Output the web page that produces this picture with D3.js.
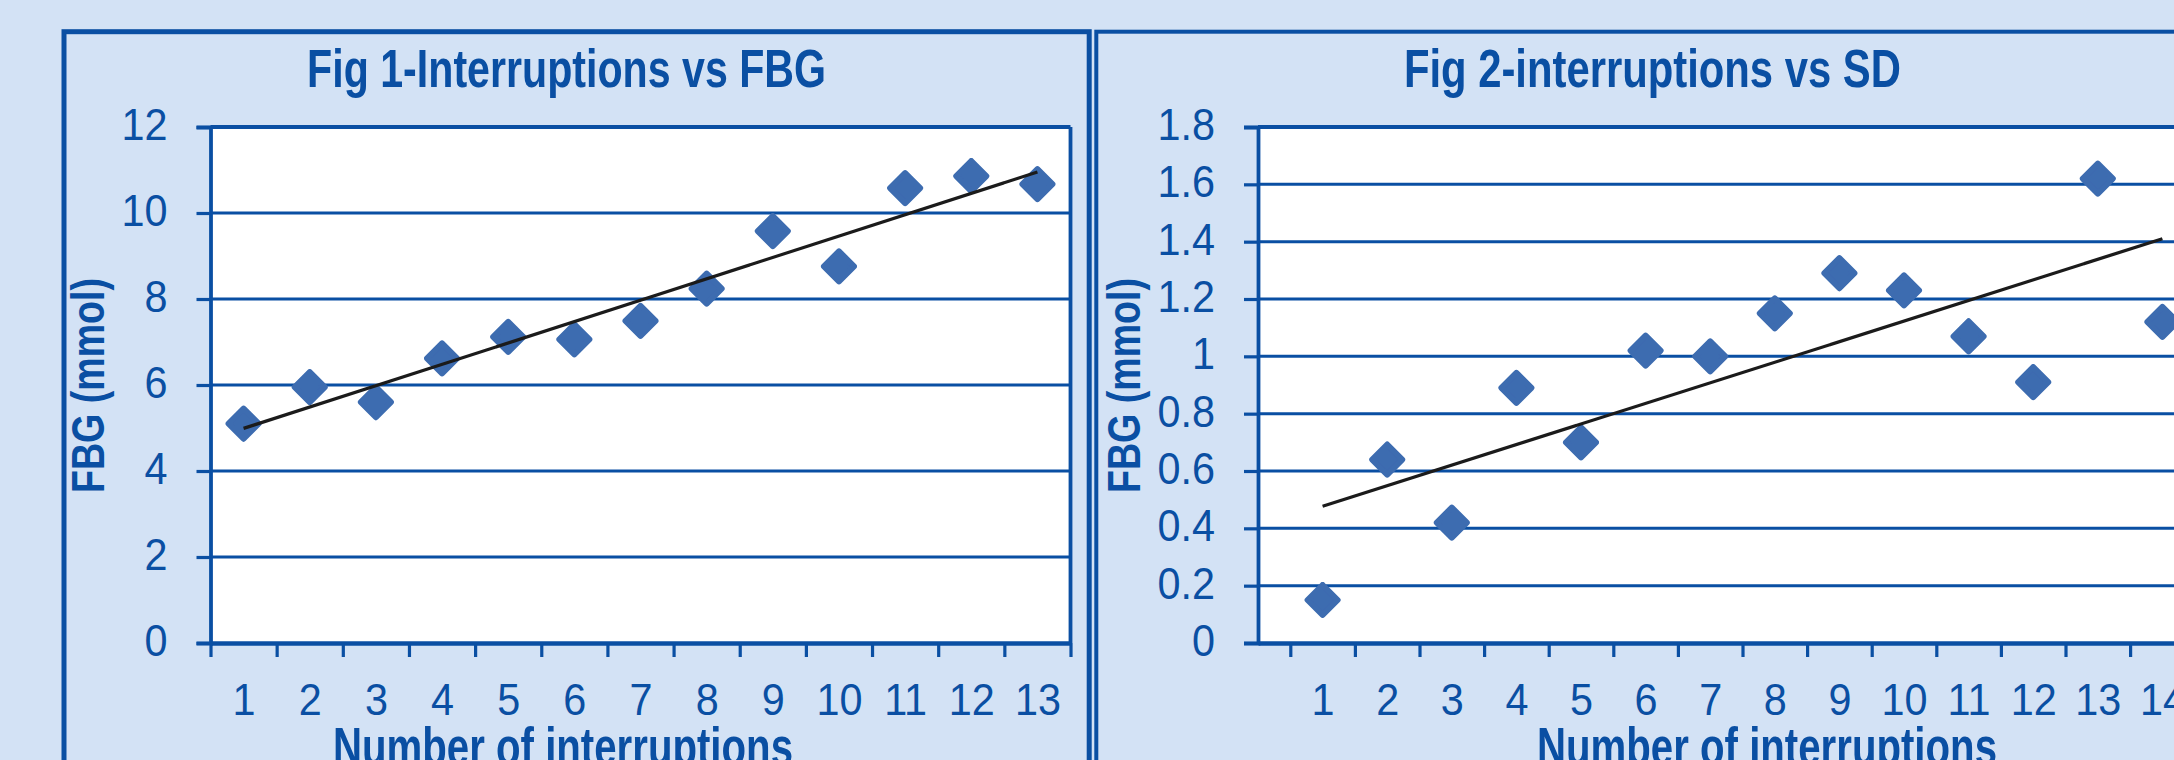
<!DOCTYPE html>
<html>
<head>
<meta charset="utf-8">
<script src="https://cdn.jsdelivr.net/npm/d3@7"></script>
<style>
  html, body { margin: 0; padding: 0; background: #D3E2F5; }
  svg { display: block; }
  text { font-family: "Liberation Sans", Arial, sans-serif; fill: #0A4FA3; }
</style>
</head>
<body>
<svg id="chart" width="2174" height="760"></svg>
<script>
// ---- data -------------------------------------------------------------
// Fig 1: fasting blood glucose (mmol) by number of interruptions
const fig1Categories = [1, 2, 3, 4, 5, 6, 7, 8, 9, 10, 11, 12, 13];
const fig1Values = [5.1, 5.95, 5.6, 6.62, 7.12, 7.06, 7.49, 8.24, 9.58, 8.76, 10.58, 10.86, 10.67];
const fig1YTicks = [0, 2, 4, 6, 8, 10, 12];

// Fig 2: standard deviation by number of interruptions
const fig2Categories = [1, 2, 3, 4, 5, 6, 7, 8, 9, 10, 11, 12, 13, 14];
const fig2Values = [0.15, 0.64, 0.42, 0.89, 0.70, 1.02, 1.00, 1.15, 1.29, 1.23, 1.07, 0.91, 1.62, 1.12];
const fig2YTicks = [0, 0.2, 0.4, 0.6, 0.8, 1, 1.2, 1.4, 1.6, 1.8];
const fig2YLabels = ["0", "0.2", "0.4", "0.6", "0.8", "1", "1.2", "1.4", "1.6", "1.8"];

const titles = ["Fig 1-Interruptions vs FBG", "Fig 2-interruptions vs SD"];
const xTitle = "Number of interruptions";
const yTitle = "FBG (mmol)";

// ---- style ------------------------------------------------------------
const BLUE = "#0A4FA3";
const MARK = "#3D6CB0";
const TICK_FONT = 45;

const svg = d3.select("#chart");

// soft edge for the markers
svg.append("defs").append("filter")
  .attr("id", "soft")
  .append("feGaussianBlur").attr("stdDeviation", 0.7);

// least-squares line through the points
function fitLine(xs, ys) {
  const mx = d3.mean(xs), my = d3.mean(ys);
  const sxy = d3.sum(xs, (x, i) => (x - mx) * (ys[i] - my));
  const sxx = d3.sum(xs, x => (x - mx) * (x - mx));
  const b = sxy / sxx;
  return x => my + b * (x - mx);
}

// horizontally compress text so it reads like a condensed face
function condense(sel, k) {
  sel.each(function () {
    const t = d3.select(this);
    const x = +t.attr("x") || 0;
    t.attr("x", x / k).attr("transform", `scale(${k},1)`);
  });
}

function panel(cfg) {
  const g = svg.append("g");

  // outer frame, open below the visible area
  g.append("rect")
    .attr("x", cfg.frame[0]).attr("y", 31.7)
    .attr("width", cfg.frame[1] - cfg.frame[0]).attr("height", 900)
    .attr("fill", "none").attr("stroke", BLUE).attr("stroke-width", cfg.frameW);

  const x = d3.scaleLinear().domain(cfg.xDomain).range([cfg.left, cfg.right]);
  const y = d3.scaleLinear().domain([0, d3.max(cfg.yTicks)]).range([643, 127]);

  const pr = Math.min(cfg.right, 2300);
  // white plot area
  g.append("rect")
    .attr("x", cfg.left).attr("y", y(d3.max(cfg.yTicks)))
    .attr("width", pr - cfg.left).attr("height", y(0) - y(d3.max(cfg.yTicks)))
    .attr("fill", "#fff");

  // horizontal gridlines
  g.append("g").selectAll("line")
    .data(cfg.yTicks.filter(v => v > 0))
    .join("line")
    .attr("x1", cfg.left).attr("x2", pr)
    .attr("y1", d => y(d)).attr("y2", d => y(d))
    .attr("stroke", BLUE)
    .attr("stroke-width", d => d === d3.max(cfg.yTicks) ? 3.8 : 3);

  // right border of plot area
  g.append("line")
    .attr("x1", pr).attr("x2", pr)
    .attr("y1", y(d3.max(cfg.yTicks))).attr("y2", y(0))
    .attr("stroke", BLUE).attr("stroke-width", 3.8);

  // y axis: ticks + labels
  const yAxis = g.append("g")
    .attr("transform", `translate(${cfg.left},0)`)
    .call(d3.axisLeft(y).tickValues(cfg.yTicks).tickSize(14).tickPadding(29)
      .tickFormat((d, i) => cfg.yLabels[i]));
  yAxis.select(".domain").attr("stroke", BLUE).attr("stroke-width", 3.8);
  yAxis.selectAll(".tick line").attr("stroke", BLUE).attr("stroke-width", 3.2);
  yAxis.selectAll(".tick text")
    .attr("font-size", TICK_FONT).attr("fill", BLUE).attr("dy", "0.28em")
    .call(condense, 0.92);

  // x axis: ticks sit between categories
  const halfTicks = d3.range(cfg.firstTick, cfg.xDomain[1] + 0.01, 1);
  const xAxis = g.append("g")
    .attr("transform", `translate(0,${y(0)})`)
    .call(d3.axisBottom(x).tickValues(halfTicks).tickSize(14).tickSizeOuter(0).tickFormat(""));
  xAxis.select(".domain").attr("stroke", BLUE).attr("stroke-width", 4.5);
  xAxis.selectAll(".tick line").attr("stroke", BLUE).attr("stroke-width", 3.2);

  // category labels
  const xLabels = g.append("g")
    .attr("transform", `translate(0,${y(0)})`)
    .call(d3.axisBottom(x).tickValues(cfg.categories).tickSize(0).tickPadding(40).tickFormat(d3.format("d")));
  xLabels.select(".domain").remove();
  xLabels.selectAll(".tick text")
    .attr("font-size", TICK_FONT).attr("fill", BLUE)
    .call(condense, 0.92);

  // diamond markers
  const r = 15;
  const diamond = `M0,${-r}L${r},0L0,${r}L${-r},0Z`;
  g.append("g").attr("filter", "url(#soft)").selectAll("path")
    .data(cfg.values)
    .join("path")
    .attr("d", diamond)
    .attr("transform", (d, i) => `translate(${x(cfg.categories[i])},${y(d)})`)
    .attr("fill", MARK).attr("stroke", MARK)
    .attr("stroke-width", 6).attr("stroke-linejoin", "round");

  // linear trendline
  const f = fitLine(cfg.categories, cfg.values);
  const x0 = d3.min(cfg.categories), x1 = d3.max(cfg.categories);
  g.append("line")
    .attr("x1", x(x0)).attr("y1", y(f(x0)))
    .attr("x2", x(x1)).attr("y2", y(f(x1)))
    .attr("stroke", "#1b1b1b").attr("stroke-width", 3.2);

  // titles
  g.append("text")
    .attr("x", cfg.titleX).attr("y", 86.7)
    .attr("text-anchor", "middle").attr("font-weight", "bold").attr("font-size", 54)
    .attr("textLength", cfg.titleW).attr("lengthAdjust", "spacingAndGlyphs")
    .text(cfg.title);

  g.append("text")
    .attr("x", cfg.xTitleX).attr("y", 765)
    .attr("text-anchor", "middle").attr("font-weight", "bold").attr("font-size", 54)
    .attr("textLength", 460).attr("lengthAdjust", "spacingAndGlyphs")
    .text(xTitle);

  g.append("text")
    .attr("transform", `translate(${cfg.yTitleX},385.5) rotate(-90)`)
    .attr("text-anchor", "middle").attr("font-weight", "bold").attr("font-size", 47)
    .attr("textLength", 215).attr("lengthAdjust", "spacingAndGlyphs")
    .text(yTitle);
}

panel({
  frame: [64, 1089.2], frameW: 5,
  left: 210.5, right: 1070.5, xDomain: [0.5, 13.5], firstTick: 0.5,
  categories: fig1Categories, values: fig1Values,
  yTicks: fig1YTicks, yLabels: fig1YTicks.map(String),
  title: titles[0], titleX: 566.6, titleW: 519,
  xTitleX: 563, yTitleX: 104
});

panel({
  frame: [1096.3, 2400], frameW: 4,
  left: 1258, right: 2227, xDomain: [0, 15], firstTick: 0.5,
  categories: fig2Categories, values: fig2Values,
  yTicks: fig2YTicks, yLabels: fig2YLabels,
  title: titles[1], titleX: 1652.4, titleW: 497,
  xTitleX: 1767, yTitleX: 1140
});
</script>
</body>
</html>
